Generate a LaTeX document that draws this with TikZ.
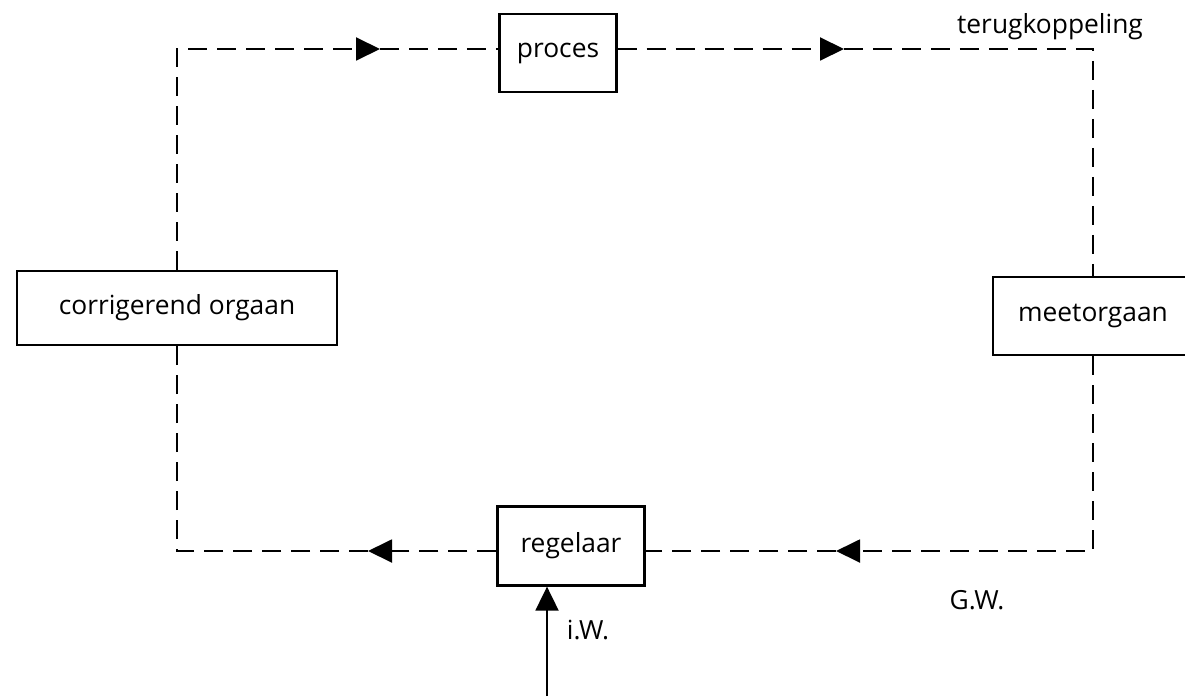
\documentclass[tikz,border=0pt]{standalone}
\usepackage{fontspec}
\setmainfont{Open Sans}
\usetikzlibrary{arrows.meta}
\tikzset{
  blok/.style={draw, line width=1.3pt, inner sep=0pt, font=\fontsize{15}{17}\selectfont},
  lus/.style={line width=1.1pt, dash pattern=on 0.38cm off 0.2cm},
  pijl/.style={-{Triangle[length=0.48cm, width=0.46cm]}},
  tekst/.style={font=\fontsize{15}{17}\selectfont}
}
\begin{document}
\begin{tikzpicture}[x=0.02cm, y=-0.02cm]
\useasboundingbox (0,0) rectangle (1185,696);
\node[blok, minimum width=2.34cm, minimum height=1.56cm] (proces) at (558,53) {proces};
\node[blok, minimum width=6.4cm, minimum height=1.48cm] (corr) at (177,308) {corrigerend orgaan};
\node[blok, minimum width=4cm, minimum height=1.56cm] (meet) at (1093,316) {meetorgaan};
\node[blok, minimum width=2.94cm, minimum height=1.58cm] (regelaar) at (571,546) {regelaar};
\coordinate (tl) at (177,49);
\coordinate (tr) at (1093,49);
\coordinate (bl) at (177,551);
\coordinate (br) at (1093,551);
\coordinate (a1) at (380,49);
\coordinate (a2) at (844,49);
\coordinate (a3) at (368,551);
\coordinate (a4) at (836,551);
\coordinate (iw) at (547,696);
\draw[lus, pijl] (corr.north) -- (tl) -- (a1);
\draw[lus] (a1) -- (tl -| proces.west);
\draw[lus, pijl] (tl -| proces.east) -- (a2);
\draw[lus] (a2) -- (tr) -- (meet.north);
\draw[lus, pijl] (meet.south) -- (br) -- (a4);
\draw[lus] (a4) -- (bl -| regelaar.east);
\draw[lus, pijl] (bl -| regelaar.west) -- (a3);
\draw[lus] (a3) -- (bl) -- (corr.south);
\draw[line width=1.1pt, pijl] (iw) -- (iw |- regelaar.south);
\node[tekst] (terug) at (1050,27) {terugkoppeling};
\node[tekst] (gw) at (977,600) {G.W.};
\node[tekst] (iwl) at (588,630) {i.W.};
\end{tikzpicture}
\end{document}
